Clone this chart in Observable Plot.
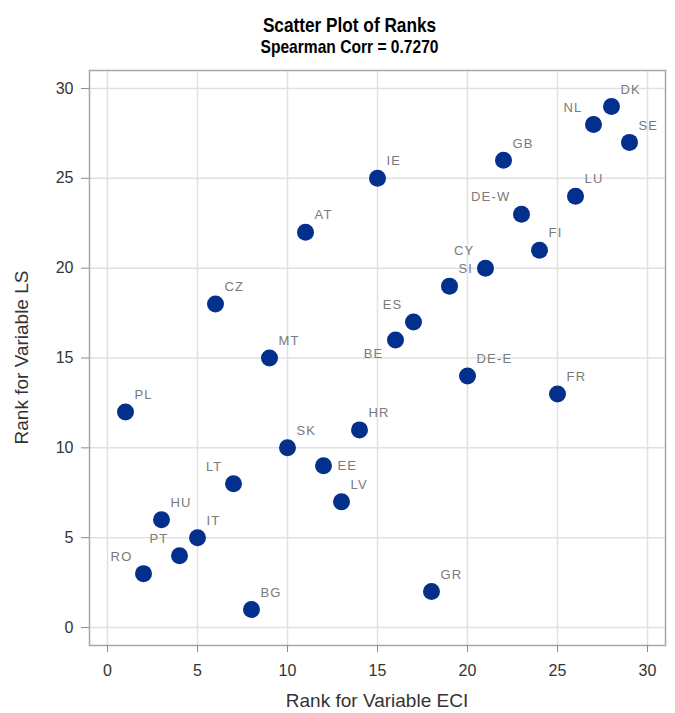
<!DOCTYPE html>
<html>
<head>
<meta charset="utf-8">
<script src="https://cdn.jsdelivr.net/npm/d3@7"></script>
<script src="https://cdn.jsdelivr.net/npm/@observablehq/plot@0.6"></script>
<style>
  body { margin: 0; background: #fff; }
  #wrap { position: relative; width: 675px; height: 713px; overflow: hidden; }
  .ttl { position: absolute; left: 12px; width: 675px; text-align: center; white-space: nowrap;
         font-family: "Liberation Sans", Arial, sans-serif;
         font-weight: bold; color: #000; transform: scaleX(0.82); transform-origin: 337.5px 50%; }
  #t1 { top: 14px; font-size: 21px; line-height: 21px; }
  #t2 { top: 37px; font-size: 19px; line-height: 19px; }
  .axt { position: absolute; font-family: "Liberation Sans", Arial, sans-serif; font-size: 19px; line-height: 19px;
         color: #333; text-align: center; white-space: nowrap; }
  #xt { left: 177px; width: 400px; top: 691px; }
  #yt { left: -179px; width: 400px; top: 348px; transform: rotate(-90deg); transform-origin: 200px 9.5px; }
  #chart { position: absolute; left: 0; top: 0; }
  g[aria-label="text"] text { letter-spacing: 1.2px; }
</style>
</head>
<body>
<div id="wrap">
  <div id="chart"></div>
  <div class="ttl" id="t1">Scatter Plot of Ranks</div>
  <div class="ttl" id="t2">Spearman Corr = 0.7270</div>
  <div class="axt" id="xt">Rank for Variable ECI</div>
  <div class="axt" id="yt">Rank for Variable LS</div>
</div>
<script>
// Country codes
const codes = ["DK","NL","SE","GB","IE","LU","DE-W","AT","FI","CY","SI","CZ","ES","BE","MT",
               "DE-E","FR","PL","HR","SK","EE","LT","LV","HU","IT","PT","RO","GR","BG"];
// Rank for variable ECI (x)
const eciRank = [28,27,29,22,15,26,23,11,24,21,19,6,17,16,9,20,25,1,14,10,12,7,13,3,5,4,2,18,8];
// Rank for variable LS (y)
const lsRank  = [29,28,27,26,25,24,23,22,21,20,19,18,17,16,15,14,13,12,11,10,9,8,7,6,5,4,3,2,1];
// Tick values
const xTicks = [0,5,10,15,20,25,30];
const yTicks = [0,5,10,15,20,25,30];

// Label placement (which side of the dot the label sits)
const leftAbove = ["NL","DE-W","CY","ES","LT","PT","RO"];
const leftBelow = ["BE"];
const rightSide = ["EE"];

const data = codes.map((c, i) => ({code: c, eci: eciRank[i], ls: lsRank[i]}));
const isRA = d => !leftAbove.includes(d.code) && !leftBelow.includes(d.code) && !rightSide.includes(d.code);

const labelStyle = {x: "eci", y: "ls", text: "code", fill: "#7a7a7a", fontSize: 13,
                    fontFamily: "Liberation Sans, Arial, sans-serif", lineAnchor: "middle"};

const chart = Plot.plot({
  width: 675,
  height: 713,
  marginTop: 70,
  marginLeft: 89,
  marginRight: 10,
  marginBottom: 68,
  style: {fontFamily: "Liberation Sans, Arial, sans-serif", background: "#fff", overflow: "visible"},
  x: {domain: [-1, 31]},
  y: {domain: [-1, 31]},
  marks: [
    Plot.gridX(xTicks, {stroke: "#e1e1e1", strokeOpacity: 1, strokeWidth: 1.5}),
    Plot.gridY(yTicks, {stroke: "#e1e1e1", strokeOpacity: 1, strokeWidth: 1.5}),
    Plot.frame({stroke: "#a6a6a6", strokeWidth: 1.5}),
    Plot.axisX(xTicks, {tickSize: 7, tickPadding: 12, fontSize: 16, stroke: "#8c8c8c", fill: "#333", label: null}),
    Plot.axisY(yTicks, {tickSize: 8, tickPadding: 8, fontSize: 16, stroke: "#8c8c8c", fill: "#333", label: null}),
    Plot.dot(data, {x: "eci", y: "ls", r: 8.5, fill: "#03308c", stroke: "none"}),
    Plot.text(data.filter(isRA), {...labelStyle, dx: 9, dy: -17, textAnchor: "start"}),
    Plot.text(data.filter(d => leftAbove.includes(d.code)), {...labelStyle, dx: -11, dy: -17, textAnchor: "end"}),
    Plot.text(data.filter(d => leftBelow.includes(d.code)), {...labelStyle, dx: -12, dy: 14, textAnchor: "end"}),
    Plot.text(data.filter(d => rightSide.includes(d.code)), {...labelStyle, dx: 14, dy: 0, textAnchor: "start"})
  ]
});
document.getElementById("chart").appendChild(chart);
</script>
</body>
</html>
